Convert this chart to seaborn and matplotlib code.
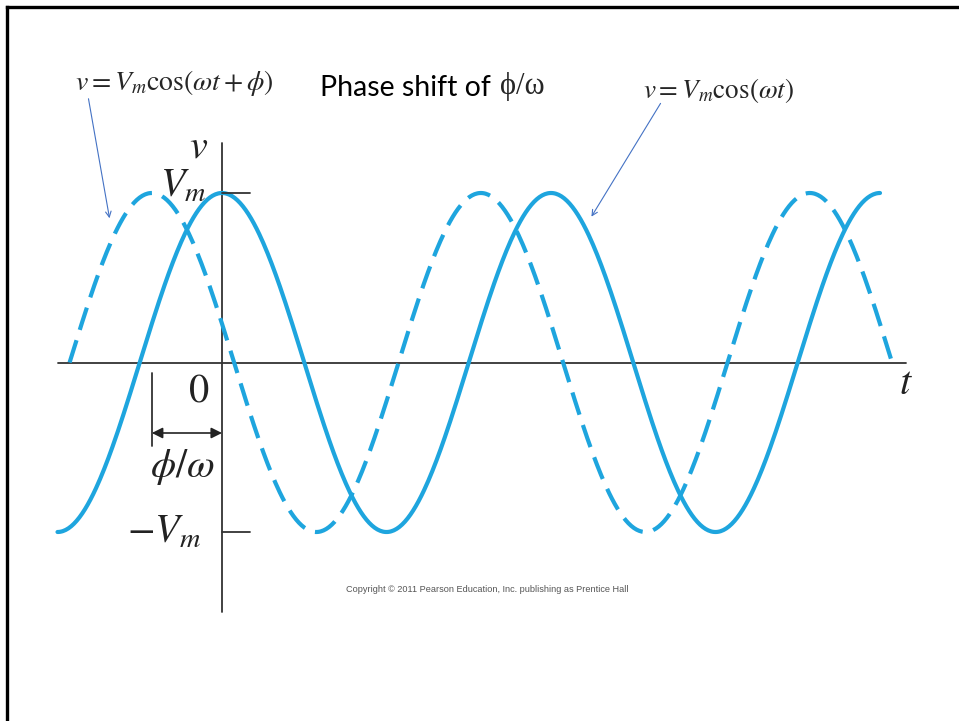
import numpy as np
import pandas as pd
import matplotlib
matplotlib.use("Agg")
import matplotlib.pyplot as plt
import seaborn as sns
from matplotlib.lines import Line2D

# ---------------- data ----------------
Vm = 1.0                      # amplitude
phi = 1.34                    # phase (rad) of the dashed curve
n_samples = 600
wt_solid = np.linspace(-np.pi, 4 * np.pi, n_samples)                 # omega*t range, solid
wt_dash = np.linspace(-np.pi / 2 - phi, 4.5 * np.pi - phi, n_samples)  # omega*t range, dashed
v_solid = Vm * np.cos(wt_solid)
v_dash = Vm * np.cos(wt_dash + phi)

df_solid = pd.DataFrame({"wt": wt_solid, "v": v_solid})
df_dash = pd.DataFrame({"wt": wt_dash, "v": v_dash})

tick_labels = [r"$V_m$", r"$-V_m$"]
axis_labels = [r"$v$", r"$t$", r"$0$"]
title_text = "Phase shift of "
title_greek = "ϕ/ω"
ann_left = r"$v = V_m\cos(\omega t + \phi)$"
ann_right = r"$v = V_m\cos(\omega t)$"
copyright_text = "Copyright © 2011 Pearson Education, Inc. publishing as Prentice Hall"

# ---------------- style ----------------
sns.set_theme(style="white")
plt.rcParams["mathtext.fontset"] = "stix"
plt.rcParams["font.family"] = ["DejaVu Sans"]

W, H = 959, 721
fig = plt.figure(figsize=(W / 100, H / 100), dpi=100)
fig.patch.set_facecolor("white")
ax = fig.add_axes([0, 0, 1, 1])
ax.axis("off")

# pixel mapping of the diagram
X0, KX = 222.0, 329.0 / (2 * np.pi)   # y-axis position, px per radian
Y0, KY = 362.5, 169.5                 # t-axis position, px per unit of Vm
ax.set_xlim(-X0 / KX, (W - X0) / KX)
ax.set_ylim(-(H - Y0) / KY, Y0 / KY)

def px(x):
    return (x - X0) / KX

def py(y):
    return (Y0 - y) / KY

blue = "#1ea5de"

# curves
sns.lineplot(data=df_solid, x="wt", y="v", ax=ax, color=blue, lw=3.0,
             estimator=None, sort=False, solid_capstyle="round")
sns.lineplot(data=df_dash, x="wt", y="v", ax=ax, color=blue, lw=3.0,
             estimator=None, sort=False)
ax.lines[-1].set_dashes([5.6, 2.6])
ax.lines[-1].set_dash_capstyle("butt")

# axes of the diagram
axc = "#333333"
ax.plot([px(58), px(906)], [0, 0], color=axc, lw=1.3, zorder=1)
ax.plot([0, 0], [py(143), py(612)], color=axc, lw=1.3, zorder=1)
ax.plot([0, px(250)], [Vm, Vm], color=axc, lw=1.3)
ax.plot([0, px(250)], [-Vm, -Vm], color=axc, lw=1.3)

# phase-shift marker
ax.plot([-phi, -phi], [py(373), py(446)], color=axc, lw=1.3)
ax.annotate("", xy=(-phi, py(433)), xytext=(0, py(433)),
            arrowprops=dict(arrowstyle="<|-|>", color="#222222", lw=1.2,
                            mutation_scale=16, shrinkA=0, shrinkB=0))

fs_big = 29
ax.text(px(199), py(157), axis_labels[0], fontsize=fs_big, ha="center", va="baseline", color="#222222")
ax.text(px(160), py(197), tick_labels[0], fontsize=fs_big, ha="left", va="baseline", color="#222222")
ax.text(px(127), py(543), tick_labels[1], fontsize=fs_big, ha="left", va="baseline", color="#222222")
ax.text(px(199), py(401), axis_labels[2], fontsize=fs_big, ha="center", va="baseline", color="#222222")
ax.text(px(906), py(394), axis_labels[1], fontsize=fs_big, ha="center", va="baseline", color="#222222")
ax.text(px(182), py(477), r"$\phi/\omega$", fontsize=fs_big, ha="center", va="baseline", color="#222222")

# title + annotations
t1 = fig.text(320 / W, 1 - 96 / H, title_text, fontsize=20.5, family=["Lato", "DejaVu Sans"],
              ha="left", va="baseline", color="black")
ax.annotate(title_greek, xy=(1, 0), xycoords=t1, xytext=(1, 0), textcoords="offset points",
            fontsize=22, family=["Liberation Serif", "DejaVu Serif"], ha="left", va="bottom")

fig.text(75 / W, 1 - 90 / H, ann_left, fontsize=20, ha="left", va="baseline")
fig.text(643 / W, 1 - 98 / H, ann_right, fontsize=19.5, ha="left", va="baseline")

arrow_c = "#4472c4"
fig.add_artist(matplotlib.patches.FancyArrowPatch(
    (88 / W, 1 - 96 / H), (110 / W, 1 - 221 / H), transform=fig.transFigure,
    arrowstyle="->", mutation_scale=10, color=arrow_c, lw=0.8))
fig.add_artist(matplotlib.patches.FancyArrowPatch(
    (662 / W, 1 - 101 / H), (590 / W, 1 - 219 / H), transform=fig.transFigure,
    arrowstyle="->", mutation_scale=10, color=arrow_c, lw=0.8))

fig.text(487 / W, 1 - 590 / H, copyright_text, fontsize=6.6, family=["Liberation Sans"],
         ha="center", va="center", color="#555555")

# slide frame (cropped on right and bottom)
fig.add_artist(Line2D([7 / W, 1.01], [1 - 7 / H, 1 - 7 / H], transform=fig.transFigure,
                      color="black", lw=2.4, solid_capstyle="projecting"))
fig.add_artist(Line2D([7 / W, 7 / W], [1 - 7 / H, -0.01], transform=fig.transFigure,
                      color="black", lw=2.4, solid_capstyle="projecting"))

fig.savefig("out.png", dpi=100, facecolor="white")
